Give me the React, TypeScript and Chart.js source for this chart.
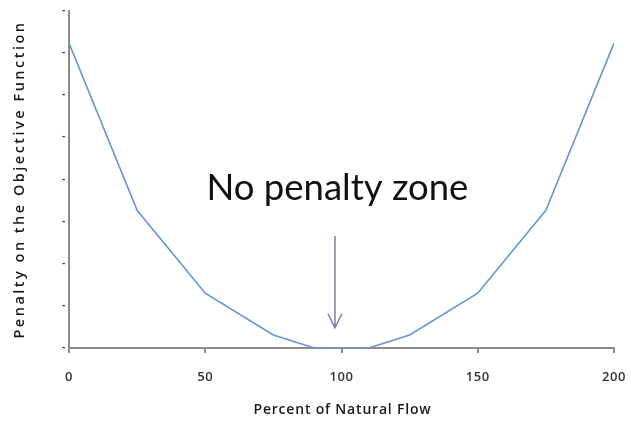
import React, { useEffect, useRef } from 'react';
import { Chart, registerables } from 'chart.js';

Chart.register(...registerables);

// ---- data ----
const flowPercent = [0, 25, 50, 75, 90, 110, 125, 150, 175, 200];
const penalty = [72.4, 32.7, 13.0, 3.1, 0, 0, 3.1, 13.0, 32.7, 72.4];
const xTickValues = [0, 50, 100, 150, 200];
const yTickValues = [0, 10, 20, 30, 40, 50, 60, 70, 80];
const xTitle = 'Percent of Natural Flow';
const yTitle = 'Penalty on the Objective Function';
const zoneLabel = 'No penalty zone';
// annotation anchor in data units
const zoneLabelX = 98.5;
const zoneLabelY = 35.1;
const arrowX = 97.6;
const arrowTopY = 26.6;
const arrowTipY = 4.8;

function fitText(ctx: CanvasRenderingContext2D, text: string, target: number) {
  ctx.letterSpacing = '0px';
  const w = ctx.measureText(text).width;
  const sp = (target - w) / text.length;
  ctx.letterSpacing = `${Math.max(0, sp).toFixed(2)}px`;
}

const spacingPlugin = {
  id: 'spacing',
  beforeDraw(chart: any) {
    chart.ctx.letterSpacing = '0.6px';
  },
  beforeDatasetsDraw(chart: any) {
    chart.ctx.letterSpacing = '0px';
  },
};

const annotationPlugin = {
  id: 'annotations',
  afterDraw(chart: any) {
    const { ctx, chartArea, scales } = chart;
    const xs = scales.x;
    const ys = scales.y;
    ctx.save();
    // big label
    ctx.letterSpacing = '0px';
    ctx.fillStyle = '#111111';
    ctx.font = '36.5px Lato';
    ctx.textAlign = 'center';
    ctx.textBaseline = 'alphabetic';
    ctx.fillText(zoneLabel, xs.getPixelForValue(zoneLabelX), ys.getPixelForValue(zoneLabelY));

    // arrow
    const ax = xs.getPixelForValue(arrowX);
    const aTop = ys.getPixelForValue(arrowTopY);
    const aTip = ys.getPixelForValue(arrowTipY);
    ctx.strokeStyle = '#7b80a8';
    ctx.lineWidth = 1.5;
    ctx.beginPath();
    ctx.moveTo(ax, aTop);
    ctx.lineTo(ax, aTip);
    ctx.moveTo(ax - 7, aTip - 14);
    ctx.lineTo(ax, aTip);
    ctx.lineTo(ax + 7, aTip - 14);
    ctx.stroke();

    // axis titles
    ctx.fillStyle = '#1a1a1a';
    ctx.textBaseline = 'middle';
    ctx.textAlign = 'center';
    ctx.font = '600 14px "Open Sans"';
    fitText(ctx, xTitle, 178);
    ctx.fillText(xTitle, (chartArea.left + chartArea.right) / 2 + 1, chartArea.bottom + 62);

    ctx.save();
    ctx.translate(20, (chartArea.top + chartArea.bottom) / 2);
    ctx.rotate(-Math.PI / 2);
    ctx.font = '600 14.5px "Open Sans"';
    fitText(ctx, yTitle, 318);
    ctx.fillText(yTitle, 0, 0);
    ctx.restore();

    ctx.restore();
  },
};

export default function App() {
  const canvasRef = useRef<HTMLCanvasElement | null>(null);

  useEffect(() => {
    if (!canvasRef.current) return;
    const chart = new Chart(canvasRef.current, {
      type: 'line',
      data: {
        datasets: [
          {
            data: flowPercent.map((x, i) => ({ x, y: penalty[i] })),
            borderColor: '#6495d6',
            borderWidth: 1.6,
            pointRadius: 0,
            tension: 0,
            fill: false,
          },
        ],
      },
      options: {
        animation: false,
        responsive: false,
        maintainAspectRatio: false,
        layout: { padding: { top: 11, right: 17, bottom: 0, left: 0 } },
        plugins: {
          legend: { display: false },
          tooltip: { enabled: false },
          title: { display: false },
        },
        scales: {
          x: {
            type: 'linear',
            min: 0,
            max: 200,
            afterBuildTicks: (scale: any) => {
              scale.ticks = xTickValues.map((v) => ({ value: v }));
            },
            afterFit: (scale: any) => {
              scale.height = 75;
              scale.paddingLeft = 0;
              scale.paddingRight = 0;
            },
            ticks: {
              color: '#333333',
              font: { family: '"Open Sans"', size: 13, weight: '600' },
              padding: 16,
              maxRotation: 0,
            },
            grid: {
              drawOnChartArea: false,
              drawTicks: true,
              tickLength: 5,
              color: '#8c8c8c',
              lineWidth: 2,
            },
            border: { display: true, color: '#8c8c8c', width: 2 },
            title: { display: false },
          },
          y: {
            type: 'linear',
            min: 0,
            max: 80,
            afterBuildTicks: (scale: any) => {
              scale.ticks = yTickValues.map((v) => ({ value: v }));
            },
            afterFit: (scale: any) => {
              scale.width = 69;
              scale.paddingTop = 0;
              scale.paddingBottom = 0;
            },
            ticks: {
              color: '#1c2a5c',
              font: { family: '"DejaVu Sans"', size: 8, weight: 'bold' },
              padding: 3,
              callback: () => '-',
            },
            grid: { drawOnChartArea: false, drawTicks: false },
            border: { display: true, color: '#8c8c8c', width: 2 },
            title: { display: false },
          },
        },
      },
      plugins: [spacingPlugin, annotationPlugin],
    });
    return () => chart.destroy();
  }, []);

  return (
    <div style={{ position: 'fixed', left: 0, top: 0, width: 631, height: 423, background: '#ffffff' }}>
      <canvas ref={canvasRef} width={631} height={423} style={{ width: 631, height: 423, display: 'block' }} />
    </div>
  );
}
